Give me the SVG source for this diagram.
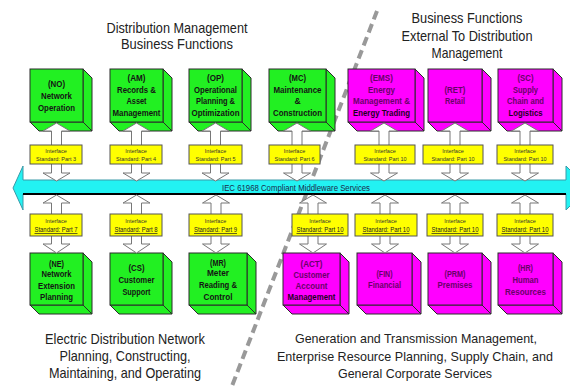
<svg xmlns="http://www.w3.org/2000/svg" width="570" height="386" viewBox="0 0 570 386">
<style>
.g{fill:#22f022;stroke:#2a2a2a;stroke-width:1}
.m{fill:#ff00ff;stroke:#2a2a2a;stroke-width:1}
.y{fill:#ffff00;stroke:#555;stroke-width:1}
.arr{fill:#fff;stroke:#777;stroke-width:1}
.bt{font-family:"Liberation Sans",Arial,sans-serif;font-weight:bold;text-anchor:middle;font-size:8.5px}
.gt{fill:#141414}
.mt{fill:#6a006a}
.mk{fill:#1e001e}
.it{font-family:"Liberation Sans",Arial,sans-serif;text-anchor:middle;font-size:5.5px;fill:#333}
.il{font-family:"Liberation Sans",Arial,sans-serif;text-anchor:middle;font-size:7px;fill:#222}
.h{font-family:"Liberation Sans",Arial,sans-serif;text-anchor:middle;font-size:15px;fill:#222}
.hs{font-family:"Liberation Sans",Arial,sans-serif;text-anchor:middle;font-size:13.5px;fill:#222}
</style>
<rect width="570" height="386" fill="#fff"/>
<line x1="377" y1="11" x2="232" y2="386" stroke="#999" stroke-width="4" stroke-dasharray="9 5"/>
<g id="headings">
<text class="h" x="177" y="33" textLength="141" lengthAdjust="spacingAndGlyphs">Distribution Management</text>
<text class="h" x="177" y="49" textLength="112" lengthAdjust="spacingAndGlyphs">Business Functions</text>
<text class="h" x="467" y="23" textLength="111" lengthAdjust="spacingAndGlyphs">Business Functions</text>
<text class="h" x="467" y="41" textLength="131" lengthAdjust="spacingAndGlyphs">External To Distribution</text>
<text class="h" x="467" y="58" textLength="71" lengthAdjust="spacingAndGlyphs">Management</text>
<text class="h" x="125" y="344" textLength="160" lengthAdjust="spacingAndGlyphs">Electric Distribution Network</text>
<text class="h" x="125" y="361" textLength="131" lengthAdjust="spacingAndGlyphs">Planning, Constructing,</text>
<text class="h" x="125" y="378" textLength="152" lengthAdjust="spacingAndGlyphs">Maintaining, and Operating</text>
<text class="hs" x="416" y="343" textLength="242" lengthAdjust="spacingAndGlyphs">Generation and Transmission Management,</text>
<text class="hs" x="415" y="361" font-size="12" textLength="276" lengthAdjust="spacingAndGlyphs">Enterprise Resource Planning, Supply Chain, and</text>
<text class="hs" x="415" y="378" textLength="154" lengthAdjust="spacingAndGlyphs">General Corporate Services</text>
</g>
<g id="middleware">
<polygon points="13,188 23,166 23,180 566,180 566,166 588,188 566,210 566,194 23,194 23,210" fill="#22f2f2" stroke="#3a9aa8" stroke-width="1"/>
<line x1="23" y1="194" x2="566" y2="194" stroke="#000" stroke-width="2.2"/>
<text x="296" y="190.5" font-family="'Liberation Sans',Arial,sans-serif" font-size="8.5" fill="#1a2a4a" text-anchor="middle" textLength="148" lengthAdjust="spacingAndGlyphs">IEC 61968 Compliant Middleware Services</text>
</g>
<g id="NO">
<polygon class="g" points="83,69 92,78 92,131 83,122"/><polygon class="g" points="30,122 83,122 92,131 39,131"/><rect class="g" x="30" y="69" width="53" height="53"/>
<text class="bt gt" x="56.5" y="87" font-size="10" textLength="17" lengthAdjust="spacingAndGlyphs">(NO)</text>
<text class="bt gt" x="56.5" y="99" font-size="10" textLength="31" lengthAdjust="spacingAndGlyphs">Network</text>
<text class="bt gt" x="56.5" y="111" font-size="10.5" textLength="37" lengthAdjust="spacingAndGlyphs">Operation</text>
</g>
<g id="AM">
<polygon class="g" points="163,69 172,78 172,131 163,122"/><polygon class="g" points="110,122 163,122 172,131 119,131"/><rect class="g" x="110" y="69" width="53" height="53"/>
<text class="bt gt" x="136.5" y="81" textLength="18" lengthAdjust="spacingAndGlyphs">(AM)</text>
<text class="bt gt" x="136.5" y="92.5" textLength="39" lengthAdjust="spacingAndGlyphs">Records &amp;</text>
<text class="bt gt" x="136.5" y="104" textLength="20" lengthAdjust="spacingAndGlyphs">Asset</text>
<text class="bt gt" x="136.5" y="116" font-size="10.5" textLength="48" lengthAdjust="spacingAndGlyphs">Management</text>
</g>
<g id="OP">
<polygon class="g" points="242,69 251,78 251,131 242,122"/><polygon class="g" points="189,122 242,122 251,131 198,131"/><rect class="g" x="189" y="69" width="53" height="53"/>
<text class="bt gt" x="215.5" y="81" textLength="17" lengthAdjust="spacingAndGlyphs">(OP)</text>
<text class="bt gt" x="215.5" y="92.5" textLength="43" lengthAdjust="spacingAndGlyphs">Operational</text>
<text class="bt gt" x="215.5" y="104" textLength="39" lengthAdjust="spacingAndGlyphs">Planning &amp;</text>
<text class="bt gt" x="215.5" y="116" font-size="10.5" textLength="48" lengthAdjust="spacingAndGlyphs">Optimization</text>
</g>
<g id="MC">
<polygon class="g" points="326,69 335,78 335,131 326,122"/><polygon class="g" points="269,122 326,122 335,131 278,131"/><rect class="g" x="269" y="69" width="57" height="53"/>
<text class="bt gt" x="297.5" y="81" textLength="17" lengthAdjust="spacingAndGlyphs">(MC)</text>
<text class="bt gt" x="297.5" y="92.5" textLength="48" lengthAdjust="spacingAndGlyphs">Maintenance</text>
<text class="bt gt" x="297.5" y="104">&amp;</text>
<text class="bt gt" x="297.5" y="116" font-size="10.5" textLength="49" lengthAdjust="spacingAndGlyphs">Construction</text>
</g>
<g id="EMS">
<polygon class="m" points="415,69 424,78 424,131 415,122"/><polygon class="m" points="348,122 415,122 424,131 357,131"/><rect class="m" x="348" y="69" width="67" height="53"/>
<text class="bt mt" x="381.5" y="81" textLength="23" lengthAdjust="spacingAndGlyphs">(EMS)</text>
<text class="bt mt" x="381.5" y="92.5" textLength="27" lengthAdjust="spacingAndGlyphs">Energy</text>
<text class="bt mt" x="381.5" y="104" textLength="57" lengthAdjust="spacingAndGlyphs">Management  &amp;</text>
<text class="bt mk" x="381.5" y="116" font-size="10.5" textLength="57" lengthAdjust="spacingAndGlyphs">Energy Trading</text>
</g>
<g id="RET">
<polygon class="m" points="482,69 491,78 491,131 482,122"/><polygon class="m" points="428,122 482,122 491,131 437,131"/><rect class="m" x="428" y="69" width="54" height="53"/>
<text class="bt mt" x="455" y="92.5" textLength="21" lengthAdjust="spacingAndGlyphs">(RET)</text>
<text class="bt mt" x="455" y="104" textLength="20" lengthAdjust="spacingAndGlyphs">Retail</text>
</g>
<g id="SC">
<polygon class="m" points="553,69 562,78 562,131 553,122"/><polygon class="m" points="498,122 553,122 562,131 507,131"/><rect class="m" x="498" y="69" width="55" height="53"/>
<text class="bt mt" x="525.5" y="81" textLength="16" lengthAdjust="spacingAndGlyphs">(SC)</text>
<text class="bt mt" x="525.5" y="92.5" textLength="25" lengthAdjust="spacingAndGlyphs">Supply</text>
<text class="bt mt" x="525.5" y="104" textLength="37" lengthAdjust="spacingAndGlyphs">Chain and</text>
<text class="bt mk" x="525.5" y="116" font-size="10.5" textLength="34" lengthAdjust="spacingAndGlyphs">Logistics</text>
</g>
<g id="NE">
<polygon class="g" points="83,253 92,262 92,314 83,305"/><polygon class="g" points="30,305 83,305 92,314 39,314"/><rect class="g" x="30" y="253" width="53" height="52"/>
<text class="bt gt" x="56.5" y="266.5" font-size="10" textLength="15" lengthAdjust="spacingAndGlyphs">(NE)</text>
<text class="bt gt" x="56.5" y="277" textLength="30" lengthAdjust="spacingAndGlyphs">Network</text>
<text class="bt gt" x="56.5" y="288.5" font-size="10" textLength="37" lengthAdjust="spacingAndGlyphs">Extension</text>
<text class="bt gt" x="56.5" y="300" font-size="10" textLength="33" lengthAdjust="spacingAndGlyphs">Planning</text>
</g>
<g id="CS">
<polygon class="g" points="163,253 172,262 172,314 163,305"/><polygon class="g" points="110,305 163,305 172,314 119,314"/><rect class="g" x="110" y="253" width="53" height="52"/>
<text class="bt gt" x="136.5" y="270.5" textLength="16" lengthAdjust="spacingAndGlyphs">(CS)</text>
<text class="bt gt" x="136.5" y="282.5" font-size="10" textLength="36" lengthAdjust="spacingAndGlyphs">Customer</text>
<text class="bt gt" x="136.5" y="294.5" font-size="10" textLength="28" lengthAdjust="spacingAndGlyphs">Support</text>
</g>
<g id="MR">
<polygon class="g" points="247,253 256,262 256,314 247,305"/><polygon class="g" points="189,305 247,305 256,314 198,314"/><rect class="g" x="189" y="253" width="58" height="52"/>
<text class="bt gt" x="218" y="265.5" font-size="10" textLength="16" lengthAdjust="spacingAndGlyphs">(MR)</text>
<text class="bt gt" x="218" y="276" textLength="22" lengthAdjust="spacingAndGlyphs">Meter</text>
<text class="bt gt" x="218" y="287.5" font-size="9.5" textLength="38" lengthAdjust="spacingAndGlyphs">Reading &amp;</text>
<text class="bt gt" x="218" y="299.5" font-size="9.5" textLength="29" lengthAdjust="spacingAndGlyphs">Control</text>
</g>
<g id="ACT">
<polygon class="m" points="340,253 349,262 349,314 340,305"/><polygon class="m" points="283,305 340,305 349,314 292,314"/><rect class="m" x="283" y="253" width="57" height="52"/>
<text class="bt mt" x="311.5" y="266.5" font-size="10.5" textLength="22" lengthAdjust="spacingAndGlyphs">(ACT)</text>
<text class="bt mt" x="311.5" y="277.5" font-size="9.5" textLength="36" lengthAdjust="spacingAndGlyphs">Customer</text>
<text class="bt mt" x="311.5" y="288.5" font-size="9.5" textLength="32" lengthAdjust="spacingAndGlyphs">Account</text>
<text class="bt mk" x="311.5" y="300" font-size="10" textLength="48" lengthAdjust="spacingAndGlyphs">Management</text>
</g>
<g id="FIN">
<polygon class="m" points="412,253 421,262 421,314 412,305"/><polygon class="m" points="357,305 412,305 421,314 366,314"/><rect class="m" x="357" y="253" width="55" height="52"/>
<text class="bt mt" x="384.5" y="276.5" textLength="16" lengthAdjust="spacingAndGlyphs">(FIN)</text>
<text class="bt mt" x="384.5" y="288" textLength="33" lengthAdjust="spacingAndGlyphs">Financial</text>
</g>
<g id="PRM">
<polygon class="m" points="482,253 491,262 491,314 482,305"/><polygon class="m" points="428,305 482,305 491,314 437,314"/><rect class="m" x="428" y="253" width="54" height="52"/>
<text class="bt mt" x="455" y="276.5" textLength="21" lengthAdjust="spacingAndGlyphs">(PRM)</text>
<text class="bt mt" x="455" y="288" textLength="35" lengthAdjust="spacingAndGlyphs">Premises</text>
</g>
<g id="HR">
<polygon class="m" points="553,253 562,262 562,314 553,305"/><polygon class="m" points="498,305 553,305 562,314 507,314"/><rect class="m" x="498" y="253" width="55" height="52"/>
<text class="bt mt" x="525.5" y="270.5" textLength="15" lengthAdjust="spacingAndGlyphs">(HR)</text>
<text class="bt mt" x="525.5" y="282.5" textLength="26" lengthAdjust="spacingAndGlyphs">Human</text>
<text class="bt mt" x="525.5" y="294.5" textLength="41" lengthAdjust="spacingAndGlyphs">Resources</text>
</g>
<g id="connectors">
<polygon class="arr" points="56.5,123 70,131 61.5,131 61.5,173 70,173 56.5,181 43,173 51.5,173 51.5,131 43,131"/>
<polygon class="arr" points="136.5,123 150,131 141.5,131 141.5,173 150,173 136.5,181 123,173 131.5,173 131.5,131 123,131"/>
<polygon class="arr" points="215.5,123 229,131 220.5,131 220.5,173 229,173 215.5,181 202,173 210.5,173 210.5,131 202,131"/>
<polygon class="arr" points="297,123 310.5,131 302,131 302,173 310.5,173 297,181 283.5,173 292,173 292,131 283.5,131"/>
<polygon class="arr" points="384,123 397.5,131 389,131 389,173 397.5,173 384,181 370.5,173 379,173 379,131 370.5,131"/>
<polygon class="arr" points="455,123 468.5,131 460,131 460,173 468.5,173 455,181 441.5,173 450,173 450,131 441.5,131"/>
<polygon class="arr" points="525,123 538.5,131 530,131 530,173 538.5,173 525,181 511.5,173 520,173 520,131 511.5,131"/>
<polygon class="arr" points="56.5,195 70,203 61.5,203 61.5,244 70,244 56.5,253 43,244 51.5,244 51.5,203 43,203"/>
<polygon class="arr" points="136.5,195 150,203 141.5,203 141.5,244 150,244 136.5,253 123,244 131.5,244 131.5,203 123,203"/>
<polygon class="arr" points="216,195 229.5,203 221,203 221,244 229.5,244 216,253 202.5,244 211,244 211,203 202.5,203"/>
<polygon class="arr" points="313,195 326.5,203 318,203 318,244 326.5,244 313,253 299.5,244 308,244 308,203 299.5,203"/>
<polygon class="arr" points="385,195 398.5,203 390,203 390,244 398.5,244 385,253 371.5,244 380,244 380,203 371.5,203"/>
<polygon class="arr" points="455,195 468.5,203 460,203 460,244 468.5,244 455,253 441.5,244 450,244 450,203 441.5,203"/>
<polygon class="arr" points="525,195 538.5,203 530,203 530,244 538.5,244 525,253 511.5,244 520,244 520,203 511.5,203"/>
</g>
<g id="IF3"><rect class="y" x="30" y="145" width="52" height="19"/><text class="it" x="56" y="152.5">Interface</text><text class="it" x="56" y="160.5">Standard: Part 3</text></g>
<g id="IF4"><rect class="y" x="110" y="145" width="52" height="19"/><text class="it" x="136" y="152.5">Interface</text><text class="it" x="136" y="160.5">Standard: Part 4</text></g>
<g id="IF5"><rect class="y" x="189" y="145" width="53" height="19"/><text class="it" x="215.5" y="152.5">Interface</text><text class="it" x="215.5" y="160.5">Standard: Part 5</text></g>
<g id="IF6"><rect class="y" x="269" y="145" width="51" height="19"/><text class="it" x="294.5" y="152.5">Interface</text><text class="it" x="294.5" y="160.5">Standard: Part 6</text></g>
<g id="IF10a"><rect class="y" x="355" y="145" width="60" height="19"/><text class="it" x="385" y="152.5">Interface</text><text class="it" x="385" y="160.5">Standard: Part 10</text></g>
<g id="IF10b"><rect class="y" x="423" y="145" width="60" height="19"/><text class="it" x="453" y="152.5">Interface</text><text class="it" x="453" y="160.5">Standard: Part 10</text></g>
<g id="IF10c"><rect class="y" x="497" y="145" width="56" height="19"/><text class="it" x="525" y="152.5">Interface</text><text class="it" x="525" y="160.5">Standard: Part 10</text></g>
<g id="IF7"><rect class="y" x="30" y="214" width="52" height="22"/><text class="it" x="56" y="222.5">Interface</text><text class="il" x="56" y="232" text-decoration="underline" textLength="43" lengthAdjust="spacingAndGlyphs">Standard: Part 7</text></g>
<g id="IF8"><rect class="y" x="110" y="214" width="52" height="22"/><text class="it" x="136" y="222.5">Interface</text><text class="il" x="136" y="232" text-decoration="underline" textLength="43" lengthAdjust="spacingAndGlyphs">Standard: Part 8</text></g>
<g id="IF9"><rect class="y" x="189" y="214" width="53" height="22"/><text class="it" x="215.5" y="222.5">Interface</text><text class="il" x="215.5" y="232" text-decoration="underline" textLength="43" lengthAdjust="spacingAndGlyphs">Standard: Part 9</text></g>
<g id="IF10d"><rect class="y" x="292" y="214" width="56" height="22"/><text class="it" x="320" y="222.5">Interface</text><text class="il" x="320" y="232" text-decoration="underline" textLength="47" lengthAdjust="spacingAndGlyphs">Standard: Part 10</text></g>
<g id="IF10e"><rect class="y" x="355" y="214" width="62" height="22"/><text class="it" x="386" y="222.5">Interface</text><text class="il" x="386" y="232" text-decoration="underline" textLength="47" lengthAdjust="spacingAndGlyphs">Standard: Part 10</text></g>
<g id="IF10f"><rect class="y" x="427" y="214" width="56" height="22"/><text class="it" x="455" y="222.5">Interface</text><text class="il" x="455" y="232" text-decoration="underline" textLength="47" lengthAdjust="spacingAndGlyphs">Standard: Part 10</text></g>
<g id="IF10g"><rect class="y" x="497" y="214" width="56" height="22"/><text class="it" x="525" y="222.5">Interface</text><text class="il" x="525" y="232" text-decoration="underline" textLength="47" lengthAdjust="spacingAndGlyphs">Standard: Part 10</text></g>
</svg>
